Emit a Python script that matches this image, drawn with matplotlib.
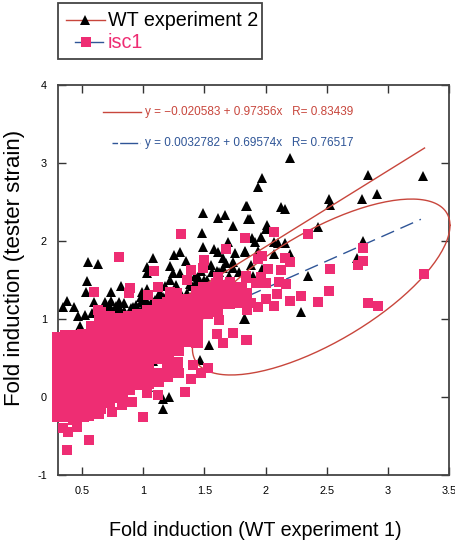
import numpy as np
import matplotlib
from matplotlib import pyplot as plt

matplotlib.use("Agg")
plt.rcParams["font.family"] = ["Liberation Sans", "DejaVu Sans"]

# black triangles, WT experiment 2
wt_x = [2.2, 2.84, 3.29, 1.97, 1.94, 2.91, 2.79, 2.52, 2.53, 2.13, 2.16, 1.84, 1.87, 2.01, 2.0, 2.43, 1.96, 1.89,
        1.91, 2.07, 2.1, 2.16, 2.8, 1.83, 1.94, 2.07, 2.2, 2.75, 1.88, 1.97, 1.9, 2.35, 2.29, 1.82,
        1.49, 1.61, 1.67, 1.73, 1.85, 1.86, 1.48, 1.49, 1.58, 1.61, 1.69, 1.75, 1.83, 1.25, 1.3, 1.08,
        1.35, 0.55, 0.63, 1.22, 1.03, 1.03, 1.24, 1.22, 1.3, 1.45, 1.43, 1.55, 1.65, 1.73, 1.65, 1.73,
        0.54, 0.53, 0.82, 0.74, 0.38, 0.34, 0.43, 0.6, 0.69, 0.74, 0.8, 0.99, 1.03, 0.98, 1.08, 0.73,
        0.8, 0.47, 0.52, 0.58, 0.81, 0.98, 1.14, 1.36, 1.83, 1.54, 1.46, 1.21, 1.16, 1.16, 1.04, 0.95,
        1.08, 0.48, 0.3, 0.65, 0.72, 0.78, 0.85, 0.92, 1.12, 1.18, 1.27, 1.4, 1.52, 1.62, 1.7, 1.78,
        0.7, 0.76, 0.78, 0.84, 0.84, 0.9, 0.94, 1.0, 1.02, 1.06, 1.1, 1.16, 1.2, 1.26, 1.32, 1.38,
        1.42, 1.47, 1.5, 1.56, 1.6, 1.68]
wt_y = [3.07, 2.85, 2.83, 2.81, 2.69, 2.6, 2.54, 2.54, 2.46, 2.44, 2.41, 2.45, 2.28, 2.21, 2.15, 2.18, 2.05, 2.04,
        1.99, 1.99, 1.97, 1.97, 2.0, 1.86, 1.87, 1.83, 1.83, 1.78, 1.69, 1.64, 1.55, 1.55, 1.09, 1.0,
        2.36, 2.29, 2.33, 2.19, 2.45, 2.28, 2.1, 1.92, 1.9, 1.86, 1.99, 1.85, 1.87, 1.82, 1.86, 1.78,
        1.74, 1.73, 1.71, 1.68, 1.67, 1.59, 1.59, 1.5, 1.59, 1.54, 1.47, 1.69, 1.78, 1.73, 1.65, 1.65,
        1.49, 1.35, 1.42, 1.35, 1.23, 1.15, 1.15, 1.22, 1.22, 1.23, 1.22, 1.35, 1.38, 1.28, 1.22, 1.15,
        1.15, 1.04, 1.05, 1.08, 1.12, 1.22, 1.33, 1.33, 1.0, 0.67, 0.47, 0.0, -0.15, -0.03, 0.13, 0.18,
        0.46, 0.91, 0.77, 1.12, 1.18, 1.1, 1.08, 1.15, 1.3, 1.42, 1.44, 1.42, 1.5, 1.6, 1.55, 1.6,
        1.12, 1.1, 1.17, 1.1, 1.2, 1.14, 1.18, 1.15, 1.25, 1.2, 1.24, 1.28, 1.34, 1.38, 1.3, 1.45,
        1.55, 1.62, 1.5, 1.6, 1.62, 1.72]

# pink squares, the solid block by columns
isc1_col_x = [0.30, 0.37, 0.44, 0.51, 0.58, 0.65, 0.72, 0.80, 0.88, 0.96, 1.04, 1.12, 1.20, 1.28, 1.36, 1.44, 1.52,
              1.60, 1.70, 1.80]
isc1_col_y = [
    [-0.24, -0.14, -0.04, 0.06, 0.16, 0.26, 0.36, 0.46, 0.56, 0.66, 0.76],
    [-0.24, -0.14, -0.04, 0.06, 0.16, 0.26, 0.36, 0.46, 0.56, 0.66, 0.78],
    [-0.24, -0.14, -0.04, 0.06, 0.16, 0.26, 0.36, 0.46, 0.56, 0.66, 0.78],
    [-0.24, -0.14, -0.03, 0.08, 0.19, 0.3, 0.41, 0.52, 0.63, 0.72, 0.8],
    [-0.2, -0.09, 0.02, 0.13, 0.24, 0.35, 0.46, 0.57, 0.68, 0.79, 0.9],
    [-0.14, -0.03, 0.08, 0.19, 0.3, 0.41, 0.52, 0.63, 0.74, 0.85, 0.96, 1.08],
    [-0.07, 0.04, 0.15, 0.26, 0.37, 0.48, 0.59, 0.7, 0.81, 0.92, 1.03],
    [0.0, 0.11, 0.22, 0.33, 0.44, 0.55, 0.66, 0.77, 0.88, 0.95, 1.0],
    [0.1, 0.21, 0.32, 0.43, 0.54, 0.65, 0.76, 0.87, 0.96, 1.02],
    [0.17, 0.28, 0.39, 0.5, 0.61, 0.72, 0.83, 0.94, 1.05],
    [0.18, 0.3, 0.41, 0.52, 0.63, 0.74, 0.85, 0.96, 1.1],
    [0.2, 0.29, 0.5, 0.6, 0.7, 0.8, 0.9, 1.0, 1.1, 1.18],
    [0.32, 0.42, 0.52, 0.62, 0.72, 0.82, 0.92, 1.02, 1.12, 1.2],
    [0.43, 0.72, 0.8, 0.91, 1.02, 1.13, 1.22],
    [0.72, 0.8, 0.91, 1.02, 1.13, 1.25],
    [0.7, 0.8, 0.9, 1.0, 1.11, 1.22, 1.35],
    [1.08, 1.19, 1.3, 1.4],
    [1.1, 1.22, 1.33, 1.45],
    [1.2, 1.3, 1.42],
    [1.22, 1.31, 1.4],
]

# pink squares that stand apart from the block
isc1_x = [3.295, 2.84, 2.92, 2.8, 2.8, 2.76, 2.53, 2.52, 2.43, 2.35, 2.29, 2.2, 2.07, 2.07, 2.09, 2.0, 2.17, 2.11,
          2.13, 2.2, 2.16, 2.02, 1.97, 1.94, 1.83, 1.84, 1.96, 2.0, 1.92, 1.85, 1.88, 1.94, 1.85, 1.84,
          1.31, 0.8, 1.09, 0.6, 1.83, 1.68, 1.5, 1.49, 1.39, 1.36, 0.89, 0.88, 1.12, 1.04, 1.22, 1.28,
          1.49, 1.61, 1.84, 1.71, 0.63, 0.377, 0.557, 0.385, 0.344, 0.426, 0.46, 1.0, 0.64, 0.557, 0.745,
          0.83, 0.91, 0.836, 1.03, 1.12, 1.34, 1.39, 1.47, 1.53, 1.41, 1.29, 1.2, 1.2, 1.29, 1.85, 1.65,
          1.6, 1.73, 1.62]
isc1_y = [1.58, 1.2, 1.17, 1.91, 1.74, 1.69, 1.64, 1.36, 1.22, 2.09, 1.29, 1.23, 2.12, 1.17, 1.32, 1.26, 1.45, 1.47,
          1.63, 1.73, 1.78, 1.64, 1.81, 1.77, 2.04, 1.55, 1.54, 1.46, 1.46, 1.33, 1.2, 1.15, 1.12, 0.73,
          2.09, 1.79, 1.62, 1.35, 2.04, 1.9, 1.76, 1.65, 1.63, 1.5, 1.4, 1.33, 1.41, 1.31, 1.35, 1.33,
          1.41, 1.54, 1.53, 1.47, 1.12, -0.68, -0.55, -0.45, -0.4, -0.3, -0.39, -0.26, -0.22, -0.24, -0.19,
          -0.1, -0.06, 0.03, 0.05, 0.03, 0.06, 0.23, 0.31, 0.37, 0.41, 0.31, 0.26, 0.47, 0.59, 0.73, 0.69,
          0.81, 0.82, 0.99]

x_ticks = [0.5, 1, 1.5, 2, 2.5, 3, 3.5]
x_labels = ["0.5", "1", "1.5", "2", "2.5", "3", "3.5"]
y_ticks = [-1, 0, 1, 2, 3, 4]
y_labels = ["-1", "0", "1", "2", "3", "4"]

red_fit = (-0.020583, 0.97356)
blue_fit = (0.0032782, 0.69574)
red_end = 3.30
blue_end = 3.27

red = "#c8463c"
blue = "#2f5597"
pink = "#ee2d73"

W, H = 456, 544
fig = plt.figure(figsize=(W / 100, H / 100), dpi=100)
ax = fig.add_axes([58 / W, 1 - 475 / H, (449 - 58) / W, (475 - 85) / H])
ax.set_xlim(0.303, 3.5)
ax.set_ylim(-1, 4)

ax.plot(wt_x, wt_y, ls="none", marker="^", ms=7.6, color="black", mew=0, zorder=2, clip_on=False)

xs = np.array([0.3, red_end])
ax.plot(xs, red_fit[0] + red_fit[1] * xs, color=red, lw=1.0, zorder=3)
xs = np.array([0.3, blue_end])
ax.plot(xs, blue_fit[0] + blue_fit[1] * xs, color=blue, lw=1.0, dashes=(10, 5), zorder=3)

# hand drawn ellipse round the outliers
t = np.radians(np.arange(0, 361, 2))
ax.plot(2.455 + 1.053 * np.cos(t), 1.41 + 0.79 * np.cos(t) + 0.805 * np.sin(t),
        color=red, lw=1.0, zorder=3, clip_on=False)

for cx, col in zip(isc1_col_x, isc1_col_y):
    ax.plot([cx] * len(col), col, ls="none", marker="s", ms=8, color=pink, mew=0, zorder=4, clip_on=False,
            snap=False)
ax.plot(isc1_x, isc1_y, ls="none", marker="s", ms=7.8, color=pink, mew=0, zorder=4, clip_on=False, snap=False)

ax.set_xticks(x_ticks)
ax.set_xticklabels(x_labels)
ax.set_yticks(y_ticks)
ax.set_yticklabels(y_labels)
ax.tick_params(axis="both", direction="in", top=True, right=True, length=5.8, width=1, color="#333333",
               labelsize=7.8, pad=8)
for spine in ax.spines.values():
    spine.set_color("#444444")
    spine.set_linewidth(1.3)

fig.text(15 / W, 1 - 268 / H, "Fold induction (tester strain)", rotation=90, fontsize=16, ha="center", va="center")
fig.text(255 / W, 1 - 530 / H, "Fold induction (WT experiment 1)", ha="center", va="center", fontsize=14.2)

# fit equations with their line keys
fig.add_artist(plt.Line2D([103 / W, 141 / W], [1 - 112 / H] * 2, color=red, lw=1.0))
fig.add_artist(plt.Line2D([112 / W, 140 / W], [1 - 143 / H] * 2, color=blue, lw=1.0, dashes=(4, 1.5, 9, 0)))
fig.text(145 / W, 1 - 112 / H, "y = \u22120.020583 + 0.97356x   R= 0.83439", color=red, fontsize=8.5, va="center")
fig.text(145 / W, 1 - 143 / H, "y = 0.0032782 + 0.69574x   R= 0.76517", color=blue, fontsize=8.5, va="center")

# legend box
fig.add_artist(plt.Rectangle((58 / W, 1 - 59 / H), 204 / W, 56 / H, fill=False, ec="#444444", lw=1.3))
fig.add_artist(plt.Line2D([66 / W, 105 / W], [1 - 20 / H] * 2, color=red, lw=1.0))
fig.add_artist(plt.Line2D([85 / W], [1 - 20 / H], marker="^", ms=7, color="black", mew=0))
fig.add_artist(plt.Line2D([75 / W, 103 / W], [1 - 42 / H] * 2, color=blue, lw=1.0))
fig.add_artist(plt.Line2D([86 / W], [1 - 42 / H], marker="s", ms=7, color=pink, mew=0))
fig.text(108 / W, 1 - 21 / H, "WT experiment 2", fontsize=14.2, va="center")
fig.text(108 / W, 1 - 43 / H, "isc1", fontsize=14.2, va="center", color=pink)

plt.savefig("out.png", dpi=100)
